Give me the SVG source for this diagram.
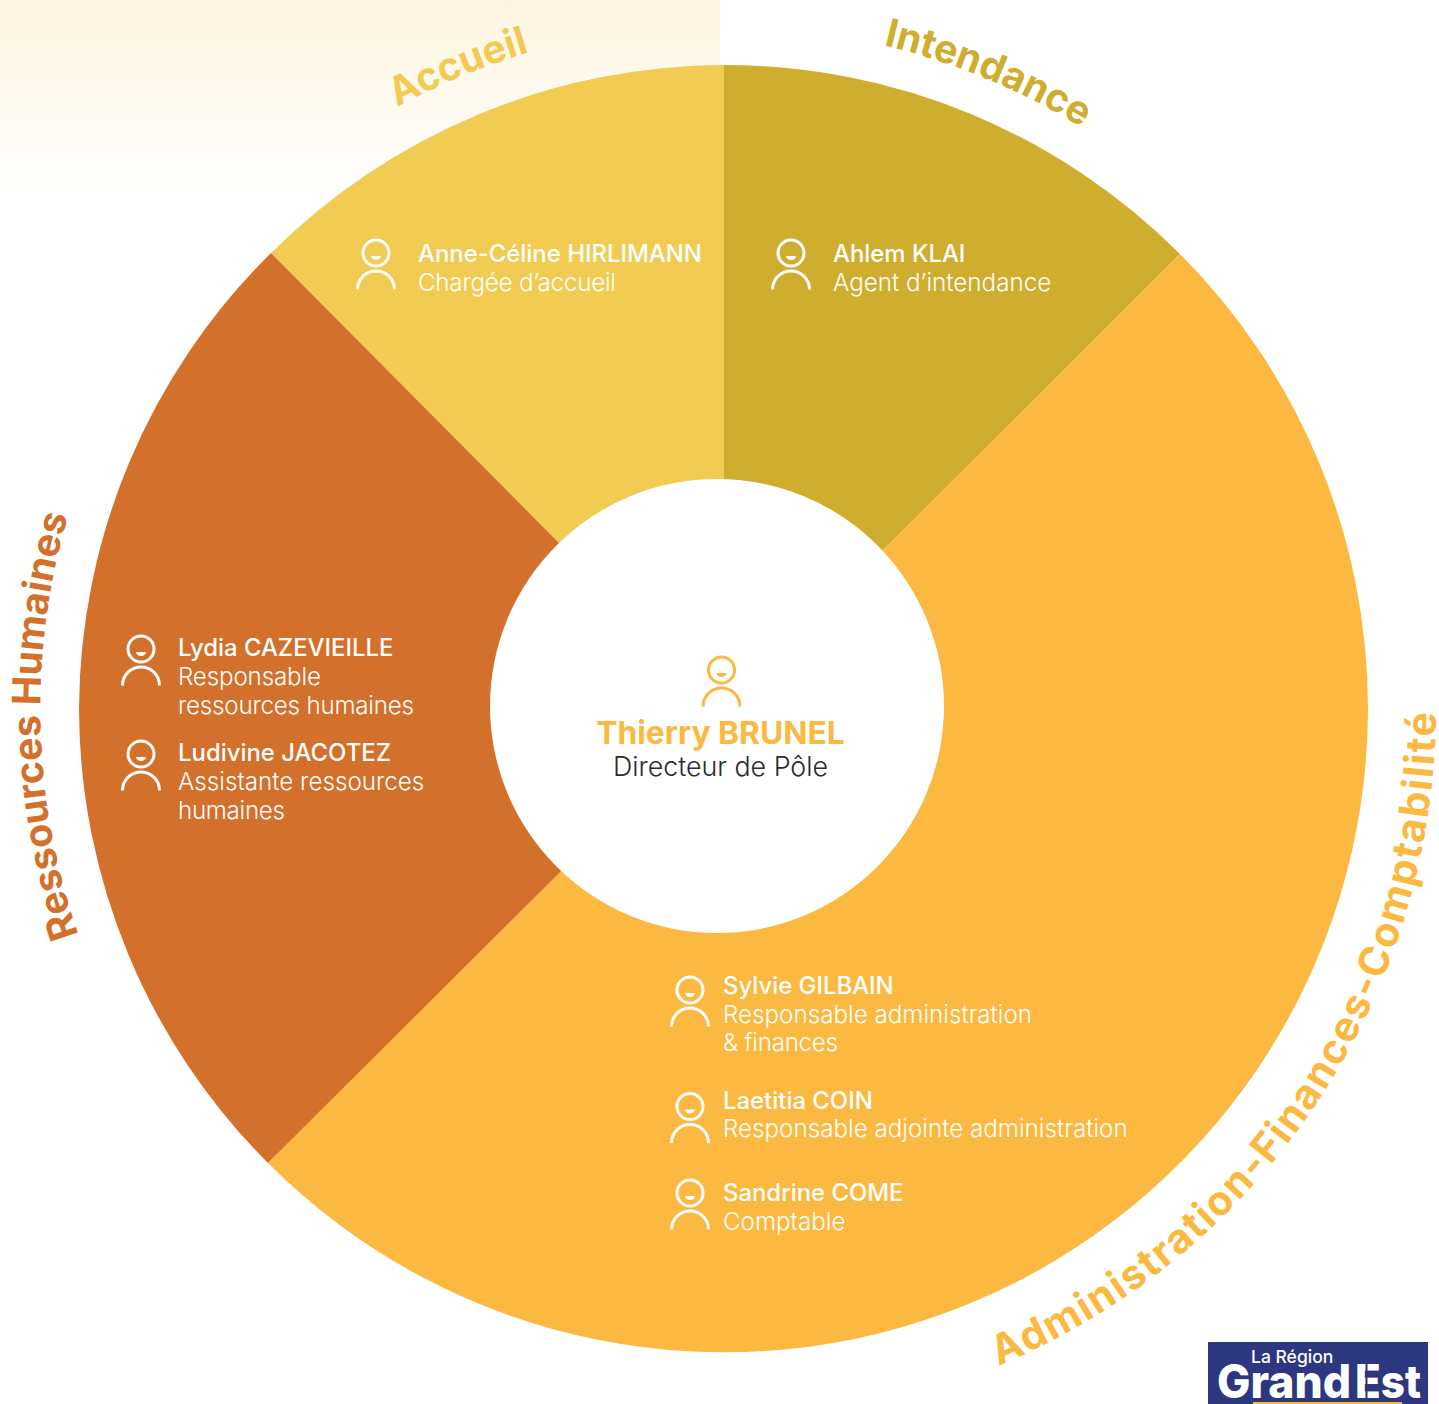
<svg xmlns="http://www.w3.org/2000/svg" width="1439" height="1404" viewBox="0 0 1439 1404">
<style>
text{font-family:Inter,"Noto Sans","Liberation Sans",sans-serif}
.n{font-size:23.9px;font-weight:500;fill:#fff}
.r{font-size:24.2px;font-weight:300;fill:#fff}
.l{font-size:39.2px;font-weight:700}
.ic{fill:none;stroke:#fff;stroke-width:3}
.sm{fill:#fff}
</style>
<defs>
<linearGradient id="bg" x1="0" y1="0" x2="0" y2="1"><stop offset="0" stop-color="#fdf5e1"/><stop offset="1" stop-color="#fff"/></linearGradient>
<g id="person"><circle class="ic" cx="0" cy="0" r="13"/><path d="M-5 3h10a5 4 0 0 1-10 0z" class="sm"/><path class="ic" d="M-18.500 36.500a18.500 18.500 0 0 1 37 0"/></g>
<path id="a1" d="M397 107A685 685 0 0 1 722 24"/>
<path id="a2" d="M724 26.500A685 685 0 0 1 1208.400 227.100"/>
<path id="a3" d="M78.500 935A687 687 0 0 1 132.500 365.500"/>
<path id="a4" d="M993 1368A712 712 0 0 0 1425.200 585.400"/>
</defs>
<rect x="0" y="0" width="720" height="200" fill="url(#bg)"/>
<g id="sector-accueil"><path d="M724 709L271 253A644 644 0 0 1 724 65Z" fill="#f2cc52"/><use href="#person" x="376" y="253"/><text class="n" x="418" y="262">Anne-Céline HIRLIMANN</text><text class="r" x="418" y="291" textLength="198">Chargée d’accueil</text><text class="l" fill="#f2cc52"><textPath href="#a1">Accueil</textPath></text></g>
<g id="sector-intendance"><path d="M724 709V65A644 644 0 0 1 1180 254Z" fill="#cfad2e"/><use href="#person" x="791" y="253"/><text class="n" x="833" y="262">Ahlem KLAI</text><text class="r" x="833" y="291">Agent d’intendance</text><text class="l" fill="#cfad2e"><textPath href="#a2" startOffset="161">Intendance</textPath></text></g>
<g id="sector-afc"><path d="M724 709L1180 254A644 644 0 0 1 1368 709A644 644 0 0 1 268 1163Z" fill="#fbb941"/>
<use href="#person" x="690" y="990"/><text class="n" x="723" y="994">Sylvie GILBAIN</text><text class="r" x="723" y="1023">Responsable administration</text><text class="r" x="723" y="1051" textLength="115">&amp; finances</text>
<use href="#person" x="690" y="1106.500"/><text class="n" x="723" y="1109">Laetitia COIN</text><text class="r" x="723" y="1137">Responsable adjointe administration</text>
<use href="#person" x="690" y="1193"/><text class="n" x="723" y="1201">Sandrine COME</text><text class="r" x="723" y="1230">Comptable</text>
<text class="l" fill="#fbb941" style="font-size:41px" letter-spacing="1.75"><textPath href="#a4" startOffset="6">Administration-Finances-Comptabilité</textPath></text></g>
<g id="sector-rh"><path d="M724 709L268 1163A644 644 0 0 1 79 709A644 644 0 0 1 271 253Z" fill="#d3702b"/>
<use href="#person" x="141" y="649"/><text class="n" x="178" y="656">Lydia CAZEVIEILLE</text><text class="r" x="178" y="685" textLength="143">Responsable</text><text class="r" x="178" y="714" textLength="236">ressources humaines</text>
<use href="#person" x="141" y="754"/><text class="n" x="178" y="761">Ludivine JACOTEZ</text><text class="r" x="178" y="790">Assistante ressources</text><text class="r" x="178" y="819" textLength="107">humaines</text>
<text class="l" fill="#d3702b"><textPath href="#a3">Ressources Humaines</textPath></text></g>
<g id="center"><circle cx="717" cy="706" r="227" fill="#fff"/>
<circle cx="721.500" cy="670" r="13" fill="none" stroke="#fbb941" stroke-width="3"/><path d="M716.500 673h10a5 4 0 0 1-10 0z" fill="#fbb941"/><path d="M703 706.500a18.500 18.500 0 0 1 37 0" fill="none" stroke="#fbb941" stroke-width="3"/>
<text x="720.500" y="744" text-anchor="middle" font-size="31.800" font-weight="700" fill="#fbb941">Thierry BRUNEL</text>
<text x="720.500" y="776" text-anchor="middle" font-size="26.800" font-weight="300" fill="#2b2b2b">Directeur de Pôle</text></g>
<g id="logo"><rect x="1208" y="1342" width="220" height="62" fill="#2d3780"/><rect x="1253" y="1402" width="149" height="2" fill="#fbb941"/>
<text x="1251" y="1363" font-size="17.500" font-weight="500" fill="#fff">La Région</text>
<text x="1217" y="1398" font-size="46" font-weight="800" fill="#fff" textLength="134" lengthAdjust="spacingAndGlyphs">Grand</text>
<text x="1355" y="1398" font-size="46" font-weight="800" fill="#fff" textLength="66" lengthAdjust="spacingAndGlyphs">Est</text><rect x="1365.500" y="1360" width="2" height="40" fill="#2d3780"/></g>
</svg>
